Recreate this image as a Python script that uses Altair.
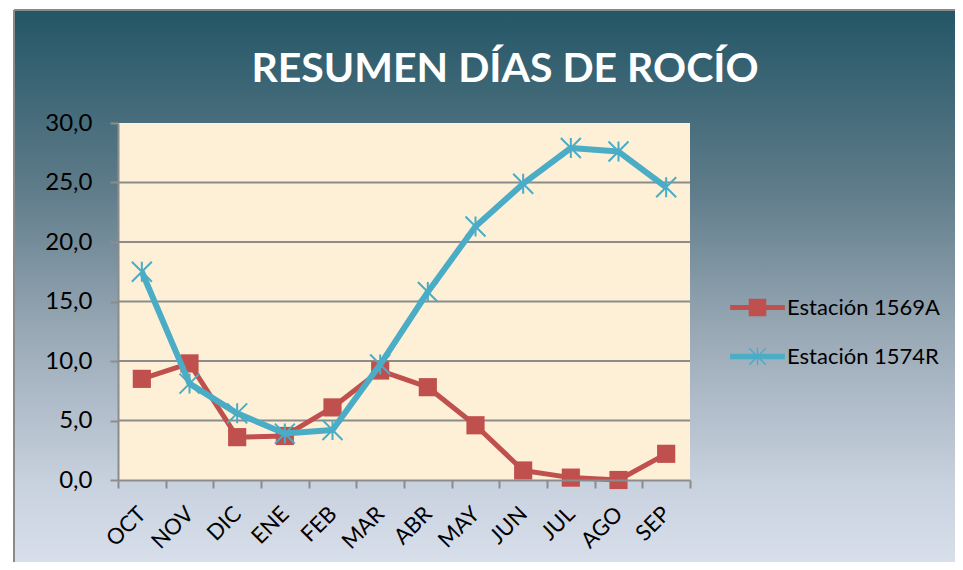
import altair as alt
import pandas as pd

meses = ["OCT", "NOV", "DIC", "ENE", "FEB", "MAR", "ABR", "MAY", "JUN", "JUL", "AGO", "SEP"]
estacion_1569a = [8.5, 9.8, 3.6, 3.7, 6.1, 9.2, 7.8, 4.6, 0.8, 0.2, 0.0, 2.2]
estacion_1574r = [17.5, 8.1, 5.6, 3.9, 4.2, 9.7, 15.8, 21.3, 24.9, 27.9, 27.6, 24.6]
series = ["Estación 1569A", "Estación 1574R"]
y_ticks = [0, 5, 10, 15, 20, 25, 30]
grid_vals = [5, 10, 15, 20, 25]

RED = "#c0504d"
BLUE = "#4bacc6"
GRAY = "#8c8c8c"
FONT = "Lato"

W, H = 572, 357

rows = []
for m, a, b in zip(meses, estacion_1569a, estacion_1574r):
    rows.append({"mes": m, "serie": series[0], "valor": a})
    rows.append({"mes": m, "serie": series[1], "valor": b})
df = pd.DataFrame(rows)
grid_df = pd.DataFrame({"v": grid_vals})

x_enc = alt.X("mes:N", sort=meses,
              scale=alt.Scale(type="band", paddingInner=0, paddingOuter=0),
              axis=alt.Axis(title=None, labelAngle=-45, labelFont=FONT, labelFontSize=22,
                            labelColor="black", labelPadding=22, labelBaseline="middle",
                            labelAlign="right", tickBand="extent",
                            domainColor=GRAY, domainWidth=2, tickColor=GRAY, tickWidth=2,
                            tickSize=8, grid=False, zindex=1))
y_enc = alt.Y("valor:Q",
              scale=alt.Scale(domain=[0, 30], nice=False, zero=True),
              axis=alt.Axis(title=None, values=y_ticks,
                            labelExpr="replace(format(datum.value, '.1f'), '.', ',')",
                            labelFont=FONT, labelFontSize=24, labelColor="black",
                            labelPadding=18, domainColor=GRAY, domainWidth=2,
                            tickColor=GRAY, tickWidth=2, tickSize=8, grid=False, zindex=1))

base = alt.Chart(df)

bg_gradient = alt.Gradient(
    gradient="linear", x1=0, y1=0, x2=0, y2=1,
    stops=[alt.GradientStop(color="#235666", offset=0),
           alt.GradientStop(color="#5e7b89", offset=0.3),
           alt.GradientStop(color="#9aa9b6", offset=0.55),
           alt.GradientStop(color="#c8d1de", offset=0.8),
           alt.GradientStop(color="#dfe5f1", offset=1)])

background = base.mark_rect(color=bg_gradient).encode(
    x=alt.value(-104), x2=alt.value(W + 300), y=alt.value(-113), y2=alt.value(H + 120))
border_top = base.mark_rule(color="#8a8a8a", strokeWidth=2).encode(
    x=alt.value(-104), x2=alt.value(W + 300), y=alt.value(-113))
border_left = base.mark_rule(color="#8a8a8a", strokeWidth=2).encode(
    x=alt.value(-104), y=alt.value(-113), y2=alt.value(H + 120))

plot_bg = base.mark_rect(color="#fdf0d6").encode(
    x=alt.value(0), x2=alt.value(W), y=alt.value(0), y2=alt.value(H))

grid = alt.Chart(grid_df).mark_rule(color=GRAY, strokeWidth=2).encode(y=alt.Y("v:Q"))

red_df = base.transform_filter(alt.datum.serie == series[0])
blue_df = base.transform_filter(alt.datum.serie == series[1])

red_line = red_df.mark_line(color=RED, strokeWidth=5, strokeJoin="round").encode(x=x_enc, y=y_enc)
red_pts = red_df.mark_point(shape="square", filled=True, color=RED, size=330, opacity=1).encode(x=x_enc, y=y_enc)
blue_line = blue_df.mark_line(color=BLUE, strokeWidth=6, strokeJoin="round").encode(x=x_enc, y=y_enc)
ASTER = "M-1,-1L1,1M-1,1L1,-1M0,-1L0,1"
blue_pts = blue_df.mark_point(shape=ASTER, filled=False, color=BLUE, size=400, strokeWidth=2, opacity=1).encode(x=x_enc, y=y_enc)

red_leg = "M-1,-0.09H1V0.09H-1Z M-0.32,-0.32H0.32V0.32H-0.32Z"
blue_leg = ("M-1,-0.1H1V0.1H-1Z "
            "M-0.32,-0.28L-0.28,-0.32L0.32,0.28L0.28,0.32Z "
            "M0.28,-0.32L0.32,-0.28L-0.28,0.32L-0.32,0.28Z "
            "M-0.025,-0.32H0.025V0.32H-0.025Z")

leg = alt.Legend(title=None, orient="none", legendX=612, legendY=157,
                 labelFont=FONT, labelFontSize=22, labelColor="black",
                 symbolSize=3000, symbolStrokeWidth=0, rowPadding=10,
                 labelOffset=2)
legend_layer = base.transform_filter("false").mark_point(filled=True, opacity=1).encode(
    color=alt.Color("serie:N", scale=alt.Scale(domain=series, range=[RED, BLUE]), legend=leg),
    shape=alt.Shape("serie:N", scale=alt.Scale(domain=series, range=[red_leg, blue_leg]), legend=leg),
)

chart = alt.layer(background, border_top, border_left, plot_bg, grid, red_line, red_pts,
                  blue_line, blue_pts, legend_layer).properties(
    width=W, height=H,
    title=alt.TitleParams("RESUMEN DÍAS DE ROCÍO", font=FONT, fontSize=41, fontWeight="bold",
                          color="white", anchor="middle", dx=101, offset=-114, baseline="alphabetic"),
    autosize=alt.AutoSizeParams(type="none"),
    padding={"left": 110, "top": 115, "right": 265, "bottom": 82},
).configure(background="white").configure_view(stroke=None)

chart.save("out.html", embed_options={"renderer": "svg", "actions": False})
